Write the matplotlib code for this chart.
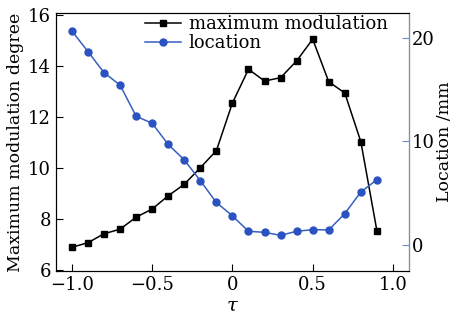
import matplotlib.pyplot as plt

plt.rcParams['font.family'] = 'DejaVu Serif'
plt.rcParams['mathtext.fontset'] = 'dejavuserif'

tau = [-1.0, -0.9, -0.8, -0.7, -0.6, -0.5, -0.4, -0.3, -0.2, -0.1,
       0.0, 0.1, 0.2, 0.3, 0.4, 0.5, 0.6, 0.7, 0.8, 0.9]
modulation = [6.89, 7.07, 7.42, 7.60, 8.07, 8.39, 8.91, 9.36, 10.01, 10.68,
              12.55, 13.87, 13.41, 13.54, 14.20, 15.05, 13.38, 12.94, 11.03, 7.54]
location = [20.65, 18.67, 16.63, 15.44, 12.43, 11.75, 9.71, 8.22, 6.21, 4.11,
            2.82, 1.33, 1.23, 0.94, 1.33, 1.49, 1.46, 3.04, 5.12, 6.31]

blue = '#3660c0'
spine_blue = '#6f8fd3'

fig = plt.figure(figsize=(4.58, 3.23), dpi=100)
ax = fig.add_axes([0.122, 0.161, 0.771, 0.799])
ax2 = ax.twinx()

l1, = ax.plot(tau, modulation, 'k-', marker='s', markersize=5, lw=1.1, label='maximum modulation')
l2, = ax2.plot(tau, location, '-', color=blue, marker='o', markersize=5, lw=1.1,
               markerfacecolor='#2a52c0', markeredgecolor='#2a52c0', label='location')

ax.set_xlim(-1.1, 1.1)
ax.set_ylim(5.96, 16.08)
ax2.set_ylim(-2.5, 22.4)
ax.set_xticks([-1.0, -0.5, 0.0, 0.5, 1.0])
ax.set_xticklabels(['\u22121.0', '\u22120.5', '0', '0.5', '1.0'])
ax.set_yticks([6, 8, 10, 12, 14, 16])
ax2.set_yticks([0, 10, 20])

ax.tick_params(direction='in', labelsize=13, length=5, top=False, right=False)
ax2.tick_params(direction='in', labelsize=13, length=5, color=spine_blue, pad=2)
ax2.spines['right'].set_color(spine_blue)

ax.set_xlabel(r'$\tau$', fontsize=14, labelpad=2)
ax.set_ylabel('Maximum modulation degree', fontsize=12.5, labelpad=3)
ax2.set_ylabel('Location /mm', fontsize=12.5, labelpad=1)

ax.legend(handles=[l1, l2], loc='upper right', bbox_to_anchor=(0.965, 1.025),
          frameon=False, fontsize=13, handlelength=2.0, borderaxespad=0.1,
          labelspacing=0.05, handletextpad=0.4)

fig.savefig('out.png', dpi=100)
